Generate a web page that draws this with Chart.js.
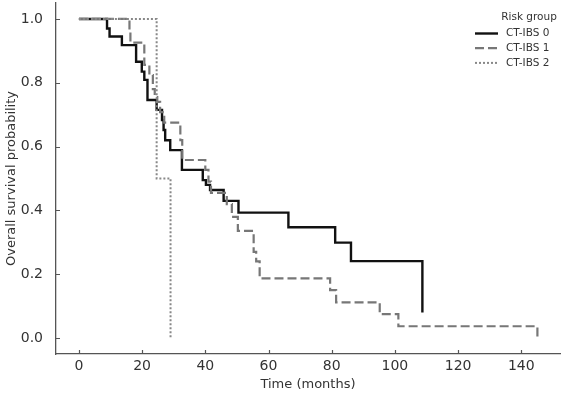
<!DOCTYPE html>
<html>
<head>
<meta charset="utf-8">
<script src="https://cdn.jsdelivr.net/npm/chart.js@4.4.1/dist/chart.umd.min.js"></script>
<style>
  html, body { margin: 0; padding: 0; background: #fff; }
  #wrap { width: 566px; height: 397px; }
</style>
</head>
<body>
<div id="wrap"><canvas id="km"></canvas></div>
<script>
// Kaplan-Meier steps (time in months, survival)
const ibs0Times = [0, 8.9, 9.7, 13.6, 18.1, 19.9, 20.7, 21.7, 24.6, 26.3, 26.8, 27.3, 28.9, 32.6, 39.2, 40.2, 41.5, 45.8, 50.5, 66.3, 81.1, 86.1, 108.7];
const ibs0Surv  = [1.0, 0.97, 0.945, 0.918, 0.866, 0.835, 0.809, 0.746, 0.715, 0.683, 0.652, 0.62, 0.589, 0.527, 0.495, 0.48, 0.464, 0.43, 0.393, 0.347, 0.299, 0.241, 0.08];

const ibs1Times = [0, 16.0, 16.3, 20.7, 22.3, 23.4, 24.0, 24.8, 25.7, 27.0, 32.1, 32.7, 40.0, 41.0, 41.8, 46.8, 48.4, 50.3, 55.3, 56.1, 57.2, 79.5, 81.4, 95.2, 101.1, 145.1];
const ibs1Surv  = [1.0, 0.96, 0.926, 0.856, 0.824, 0.78, 0.755, 0.74, 0.708, 0.675, 0.62, 0.558, 0.527, 0.49, 0.455, 0.42, 0.38, 0.336, 0.27, 0.24, 0.187, 0.15, 0.112, 0.075, 0.037, 0.0];

const ibs2Times = [0, 24.6, 29.0];
const ibs2Surv  = [1.0, 0.5, 0.0];

const groupLabels = ['CT-IBS 0', 'CT-IBS 1', 'CT-IBS 2'];
const xTicks = [0, 20, 40, 60, 80, 100, 120, 140];
const yTicks = [0.0, 0.2, 0.4, 0.6, 0.8, 1.0];

const FONT = 'DejaVu Sans';
const AXIS_COLOR = '#555';
const TEXT_COLOR = '#333';

function toPoints(times, surv) {
    return times.map((t, i) => ({ x: t, y: surv[i] }));
}

const styles = [
    { color: '#111', width: 2.4, dash: [] },
    { color: '#777', width: 2.2, dash: [9, 4] },
    { color: '#888', width: 2, dash: [2, 2] }
];

// inward tick marks, like the matplotlib original
const tickMarks = {
    id: 'tickMarks',
    afterDraw(chart) {
        const ctx = chart.ctx;
        const xs = chart.scales.x, ys = chart.scales.y;
        const area = chart.chartArea;
        ctx.save();
        ctx.strokeStyle = AXIS_COLOR;
        ctx.lineWidth = 1.2;
        ctx.beginPath();
        xTicks.forEach(v => {
            const px = Math.round(xs.getPixelForValue(v)) + 0.5;
            ctx.moveTo(px, area.bottom);
            ctx.lineTo(px, area.bottom - 4);
        });
        yTicks.forEach(v => {
            const py = Math.round(ys.getPixelForValue(v)) + 0.5;
            ctx.moveTo(area.left, py);
            ctx.lineTo(area.left + 4, py);
        });
        ctx.stroke();
        ctx.restore();
    }
};

// legend box in the upper right corner of the plot
const cornerLegend = {
    id: 'cornerLegend',
    afterDraw(chart) {
        const ctx = chart.ctx;
        const area = chart.chartArea;
        const x0 = area.right - 85;
        const top = area.top + 14;
        ctx.save();
        ctx.fillStyle = TEXT_COLOR;
        ctx.font = '10.5px "' + FONT + '"';
        ctx.textBaseline = 'middle';
        ctx.textAlign = 'center';
        ctx.fillText('Risk group', x0 + 54, top);
        ctx.textAlign = 'left';
        groupLabels.forEach((lab, i) => {
            const y = top + 16.5 + i * 14.7;
            const s = styles[i];
            ctx.strokeStyle = s.color;
            ctx.lineWidth = s.width;
            ctx.setLineDash(s.dash);
            ctx.beginPath();
            ctx.moveTo(x0, y);
            ctx.lineTo(x0 + 23, y);
            ctx.stroke();
            ctx.setLineDash([]);
            ctx.fillText(lab, x0 + 31, y);
        });
        ctx.restore();
    }
};

const chart = new Chart(document.getElementById('km'), {
    type: 'line',
    data: {
        datasets: [
            { label: groupLabels[0], data: toPoints(ibs0Times, ibs0Surv), order: 3 },
            { label: groupLabels[1], data: toPoints(ibs1Times, ibs1Surv), order: 2 },
            { label: groupLabels[2], data: toPoints(ibs2Times, ibs2Surv), order: 1 }
        ].map((d, i) => Object.assign(d, {
            borderColor: styles[i].color,
            borderWidth: styles[i].width,
            borderDash: styles[i].dash,
            stepped: 'before',
            pointRadius: 0,
            fill: false
        }))
    },
    options: {
        responsive: true,
        maintainAspectRatio: false,
        animation: false,
        layout: { padding: { top: 3, right: 6, left: 0, bottom: 0 } },
        plugins: {
            legend: { display: false },
            tooltip: { enabled: false }
        },
        scales: {
            x: {
                type: 'linear',
                min: -7.25,
                max: 152.25,
                grid: { display: false },
                border: { display: true, color: AXIS_COLOR, width: 1.3 },
                afterBuildTicks: s => { s.ticks = xTicks.map(v => ({ value: v })); },
                afterFit: s => { s.height = 43; s.paddingLeft = 0; s.paddingRight = 0; },
                ticks: {
                    color: TEXT_COLOR,
                    padding: -4,
                    maxRotation: 0,
                    font: { family: FONT, size: 14 },
                    callback: v => String(v)
                },
                title: {
                    display: true,
                    text: 'Time (months)',
                    color: TEXT_COLOR,
                    font: { family: FONT, size: 13 },
                    padding: { top: 0, bottom: 5 }
                }
            },
            y: {
                type: 'linear',
                min: -0.05,
                max: 1.05,
                grid: { display: false },
                border: { display: true, color: AXIS_COLOR, width: 1.3 },
                afterBuildTicks: s => { s.ticks = yTicks.map(v => ({ value: v })); },
                afterFit: s => { s.width = 56; s.paddingTop = 0; s.paddingBottom = 0; },
                ticks: {
                    color: TEXT_COLOR,
                    padding: 5,
                    font: { family: FONT, size: 14 },
                    callback: v => v.toFixed(1)
                },
                title: {
                    display: true,
                    text: 'Overall survival probability',
                    color: TEXT_COLOR,
                    font: { family: FONT, size: 13 },
                    padding: { top: 4, bottom: 0 }
                }
            }
        }
    },
    plugins: [tickMarks, cornerLegend]
});
</script>
</body>
</html>
